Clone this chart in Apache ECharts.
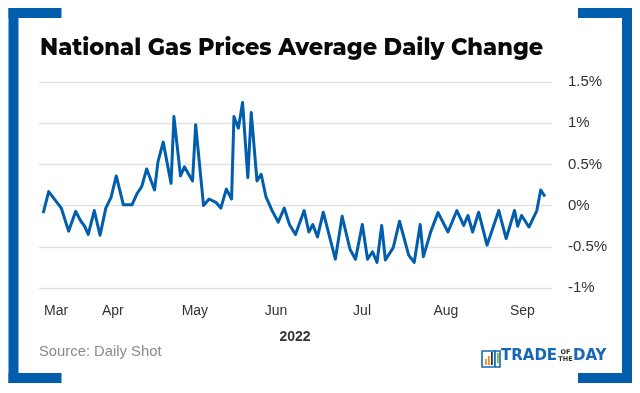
<!DOCTYPE html>
<html><head><meta charset="utf-8">
<style>html,body{margin:0;padding:0;background:#fff}#c{width:640px;height:393px}</style>
<script src="https://cdn.jsdelivr.net/npm/echarts@6/dist/echarts.min.js"></script>
</head><body><div id="c"></div>
<script>
const title = 'National Gas Prices Average Daily Change';
const source = 'Source: Daily Shot';
const yearLabel = '2022';
// days since 1 March 2022
const days = [0.1,2.2,4.6,7,9.8,12.5,14.5,15.9,17.3,19.6,21.8,24,26,28,30.7,34,36,37.7,39.6,42.6,43.9,45.9,48.9,50,52.5,54,57.1,58.3,61.3,63.4,66,67.9,70,72,72.9,74.6,76.2,78.2,79.5,81.7,83.3,85.1,87.3,89.8,92.1,94.1,96.4,99.7,101.5,103,104.8,107,111.6,114.2,117.2,119.3,121.9,123.9,125.8,127.5,129.3,130.7,133.7,136.1,139.6,141.7,144,145.2,148.1,150.8,154.6,158,160.6,162.2,164,166.3,169.5,174,176.8,180,181.2,182.7,185.5,188.5,190,191.6];
const changes = [-0.09,0.17,0.07,-0.03,-0.31,-0.07,-0.19,-0.25,-0.35,-0.06,-0.36,-0.03,0.1,0.36,0.01,0.01,0.15,0.23,0.445,0.19,0.53,0.77,0.27,1.08,0.36,0.47,0.3,0.98,0,0.08,0.04,-0.03,0.2,0.08,1.08,0.94,1.25,0.34,1.13,0.3,0.38,0.11,-0.05,-0.2,-0.03,-0.23,-0.35,-0.06,-0.32,-0.23,-0.38,-0.08,-0.65,-0.13,-0.53,-0.65,-0.23,-0.65,-0.56,-0.69,-0.24,-0.66,-0.51,-0.19,-0.6,-0.69,-0.23,-0.62,-0.31,-0.085,-0.32,-0.06,-0.24,-0.12,-0.32,-0.08,-0.48,-0.06,-0.4,-0.06,-0.25,-0.12,-0.26,-0.06,0.19,0.11];
const monthNames = ['Mar','Apr','May','Jun','Jul','Aug','Sep'];
const monthTicks = [5,26.7,58,89,121.8,153.8,183];

const blue = '#005EAD';
const logoBlue = '#1668B5';
const chart = echarts.init(document.getElementById('c'), null, {renderer:'canvas'});
const rect = (x,y,width,height,fill) => ({type:'rect',shape:{x,y,width,height},style:{fill}});
const txt = (x,y,text,font,fill,align) => ({type:'text',x,y,style:{text,font,fill,align:align||'left',verticalAlign:'middle'}});
chart.setOption({
  animation:false,
  backgroundColor:'#fff',
  grid:{left:39,right:88,top:82,bottom:105,containLabel:false},
  xAxis:{type:'value',min:-1.5,max:194.3,
    axisLine:{show:false},axisTick:{show:false},splitLine:{show:false},
    axisLabel:{customValues:monthTicks,margin:16,fontFamily:'Liberation Sans',fontSize:14,color:'#333',
      formatter:v=>monthNames[monthTicks.indexOf(v)]||''}},
  yAxis:{type:'value',position:'right',min:-1,max:1.5,interval:0.5,
    axisLine:{show:false},axisTick:{show:false},
    splitLine:{lineStyle:{color:'#E2E2E2',width:1.3}},
    axisLabel:{margin:16,padding:[2,0,0,0],fontFamily:'Liberation Sans',fontSize:15,color:'#333',
      formatter:v=>v+'%'}},
  series:[{type:'line',data:days.map((d,i)=>[d,changes[i]]),showSymbol:false,symbol:'none',
    lineStyle:{color:blue,width:3,join:'round'},smooth:false}],
  graphic:[
    rect(8.5,8,10,375,blue),rect(8.5,8,53,10,blue),rect(8.5,373,53,10,blue),
    rect(622,8,10,375,blue),rect(578,8,54,10,blue),rect(578,373,54,10,blue),
    txt(40,48,title,'800 22.5px Montserrat, "Open Sans", sans-serif','#0A0A0A'),
    txt(295,337,yearLabel,'700 14px "Liberation Sans"','#333','center'),
    txt(39,352,source,'14.8px "Liberation Sans"','#8A8A8A'),
    {type:'rect',shape:{x:482,y:351,width:18,height:16},style:{fill:'none',stroke:logoBlue,lineWidth:1.6}},
    rect(485,359,1.8,6,'#F28C28'),rect(488,356,1.8,9,'#F28C28'),rect(491,352,1.8,13,'#333'),rect(494,350,1.8,17,logoBlue),rect(497,353,1.8,10,'#7AC143'),
    txt(501,356,'TRADE','700 15px "DejaVu Sans"',logoBlue),
    txt(565.5,352.5,'OF','700 6.5px "DejaVu Sans"','#333','center'),
    txt(565.5,359,'THE','700 6.5px "DejaVu Sans"','#333','center'),
    txt(573,356,'DAY','700 15px "DejaVu Sans"',logoBlue)
  ]
});
</script></body></html>
